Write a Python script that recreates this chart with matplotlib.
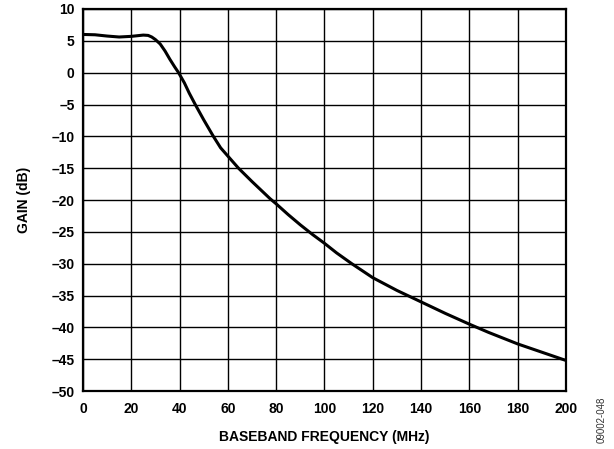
import numpy as np
import matplotlib.pyplot as plt

plt.rcParams['font.family'] = ['Liberation Sans', 'DejaVu Sans']

freq_mhz = [0, 5, 10, 15, 20, 25, 27, 28.5, 30, 32, 34, 36, 38, 39.6, 42, 44, 46.5,
            50, 54, 57, 60, 64.4, 70, 77.5, 80, 85, 90, 95, 100, 105, 111.3, 120,
            130, 140, 150, 160, 168, 180, 190, 200]
gain_db = [6.0, 5.95, 5.75, 5.6, 5.7, 5.9, 5.85, 5.6, 5.2, 4.5, 3.4, 2.1, 0.9, 0.0,
           -1.6, -3.2, -5.0, -7.4, -10.0, -11.8, -13.1, -15.0, -17.1, -19.8, -20.6,
           -22.3, -23.9, -25.4, -26.8, -28.3, -30.0, -32.2, -34.2, -36.0, -37.8,
           -39.5, -40.8, -42.6, -43.9, -45.2]

fig = plt.figure(figsize=(6.14, 4.49), dpi=100)
ax = fig.add_axes([0.135, 0.129, 0.787, 0.851])

ax.plot(freq_mhz, gain_db, color='black', lw=2.2, solid_joinstyle='round')

ax.set_xlim(0, 200)
ax.set_ylim(-50, 10)
ax.set_xticks(np.arange(0, 201, 20))
ax.set_yticks(np.arange(-50, 11, 5))
ax.set_yticklabels([str(v).replace('-', '\u2013') for v in range(-50, 11, 5)])
ax.grid(True, color='black', lw=1.0)
ax.tick_params(length=0, labelsize=10, pad=6)
ax.tick_params(axis='x', pad=8)
for lbl in ax.get_xticklabels() + ax.get_yticklabels():
    lbl.set_fontweight('bold')
for s in ax.spines.values():
    s.set_linewidth(1.6)

ax.set_xlabel('BASEBAND FREQUENCY (MHz)', fontsize=10, fontweight='bold', labelpad=10)
ax.set_ylabel('GAIN (dB)', fontsize=10, fontweight='bold', labelpad=15)

fig.text(0.980, 0.013, '09002-048', rotation=90, fontsize=7, ha='center', va='bottom',
         color='#333333')

fig.savefig('out.png', dpi=100)
